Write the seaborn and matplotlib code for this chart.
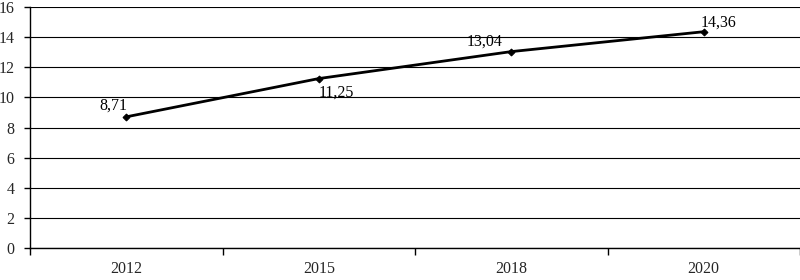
import matplotlib
matplotlib.use("Agg")
import matplotlib.pyplot as plt
import seaborn as sns
import pandas as pd
import numpy as np

years = ["2012", "2015", "2018", "2020"]
values = [8.71, 11.25, 13.04, 14.36]
labels = ["8,71", "11,25", "13,04", "14,36"]
y_ticks = [0, 2, 4, 6, 8, 10, 12, 14, 16]

sns.set_theme(style="white")
plt.rcParams['font.family'] = ['Liberation Serif', 'DejaVu Serif']

df = pd.DataFrame({"x": np.arange(len(years)), "v": values})

fig = plt.figure(figsize=(8, 2.8), dpi=100)
ax = fig.add_axes([0.0375, 0.114, 0.9625, 0.861])

sns.lineplot(data=df, x="x", y="v", ax=ax, color="black", linewidth=2,
             marker="D", markersize=3.5, markeredgecolor="black", zorder=3)

ax.set_xlim(-0.5, len(years) - 0.5)
ax.set_ylim(0, 16)
ax.set_yticks(y_ticks)
ax.set_yticklabels([str(t) for t in y_ticks], fontsize=11.5)
ax.set_xticks(np.arange(len(years)))
ax.set_xticklabels(years, fontsize=11.5)
ax.set_xticks(np.arange(-0.5, len(years)), minor=True)
ax.tick_params(axis="x", which="major", length=0, pad=9)
ax.tick_params(axis="x", which="minor", length=5, width=1, color="black", direction="out", bottom=True)
ax.tick_params(axis="y", length=4, width=1, color="black", direction="out", left=True, pad=7)
ax.set_xlabel("")
ax.set_ylabel("")

ax.yaxis.grid(True, color="black", linewidth=0.8)
ax.set_axisbelow(True)
for s in ["top", "right"]:
    ax.spines[s].set_visible(False)
ax.spines["left"].set_color("black")
ax.spines["left"].set_linewidth(1)
ax.spines["bottom"].set_color("black")
ax.spines["bottom"].set_linewidth(1)

offsets = [(-19, 5), (0, -13), (-32, 4), (-2, 4)]
for i, (v, lab) in enumerate(zip(values, labels)):
    ax.annotate(lab, (i, v), xytext=offsets[i], textcoords="offset points",
                fontsize=11.5, color="black")

fig.savefig("out.png", dpi=100)
